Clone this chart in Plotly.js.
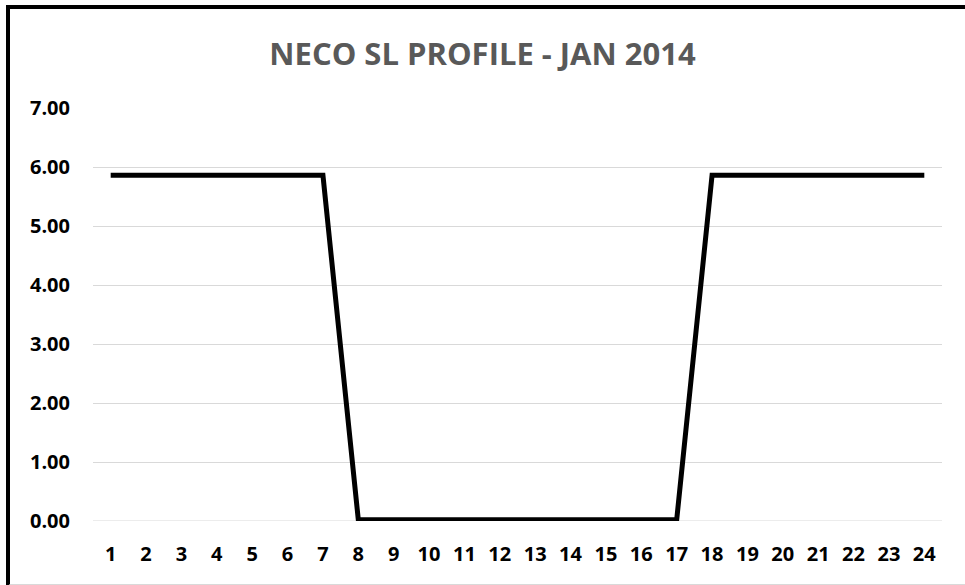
<!DOCTYPE html>
<html>
<head>
<meta charset="utf-8">
<script src="https://cdn.plot.ly/plotly-3.0.1.min.js"></script>
<style>
  html, body { margin: 0; padding: 0; background: #fff; }
  #wrap { position: relative; width: 965px; height: 585px; overflow: hidden; }
  #chart { position: absolute; left: 0; top: 0; width: 965px; height: 585px; }
  #frame { position: absolute; left: 6px; top: 5px; width: 1200px; height: 575px;
           border-left: 4px solid #000; border-top: 4px solid #000;
           border-bottom: 3px solid #d9d9d9; pointer-events: none; }
</style>
</head>
<body>
<div id="wrap">
  <div id="chart"></div>
  <div id="frame"></div>
</div>
<script>
const hours = ['1','2','3','4','5','6','7','8','9','10','11','12','13','14','15','16','17','18','19','20','21','22','23','24'];
const slValues = [5.86,5.86,5.86,5.86,5.86,5.86,5.86,0.02,0.02,0.02,0.02,0.02,0.02,0.02,0.02,0.02,0.02,5.86,5.86,5.86,5.86,5.86,5.86,5.86];
const yTicks = [0,1,2,3,4,5,6,7];
const yTickText = ['0.00','1.00','2.00','3.00','4.00','5.00','6.00','7.00'];
const chartTitle = 'NECO SL PROFILE - JAN 2014';

const trace = {
  x: hours, y: slValues, type: 'scatter', mode: 'lines',
  line: { color: '#000000', width: 5, shape: 'linear' },
  hoverinfo: 'skip'
};
const fam = '"Open Sans", "DejaVu Sans", sans-serif';
const layout = {
  width: 965, height: 585,
  margin: { l: 93, r: 23, t: 108, b: 64 },
  paper_bgcolor: '#ffffff', plot_bgcolor: '#ffffff',
  showlegend: false,
  title: { text: '<b>' + chartTitle + '</b>', x: 0.5, xanchor: 'center', y: 1 - 54/585, yanchor: 'middle', yref: 'container',
           font: { family: fam, size: 31, color: '#595959' } },
  xaxis: {
    type: 'category', range: [-0.5, 23.5], showgrid: false, zeroline: false, showline: false,
    ticks: '', tickfont: { family: fam, size: 20, color: '#000', weight: 'bold' },
    ticklabelstandoff: 19, fixedrange: true
  },
  yaxis: {
    range: [0, 7], tickvals: yTicks, ticktext: yTickText,
    showgrid: true, gridcolor: '#d9d9d9', gridwidth: 1, zeroline: false, showline: false,
    ticks: '', tickfont: { family: fam, size: 20, color: '#000', weight: 'bold' },
    ticklabelstandoff: 22, fixedrange: true
  },
  shapes: [
    { type: 'line', xref: 'paper', yref: 'y', x0: 0, x1: 1, y0: 0, y1: 0, line: { color: '#d9d9d9', width: 1 }, layer: 'below' }
  ]
};
Plotly.newPlot('chart', [trace], layout, { staticPlot: true, displayModeBar: false });
</script>
</body>
</html>
